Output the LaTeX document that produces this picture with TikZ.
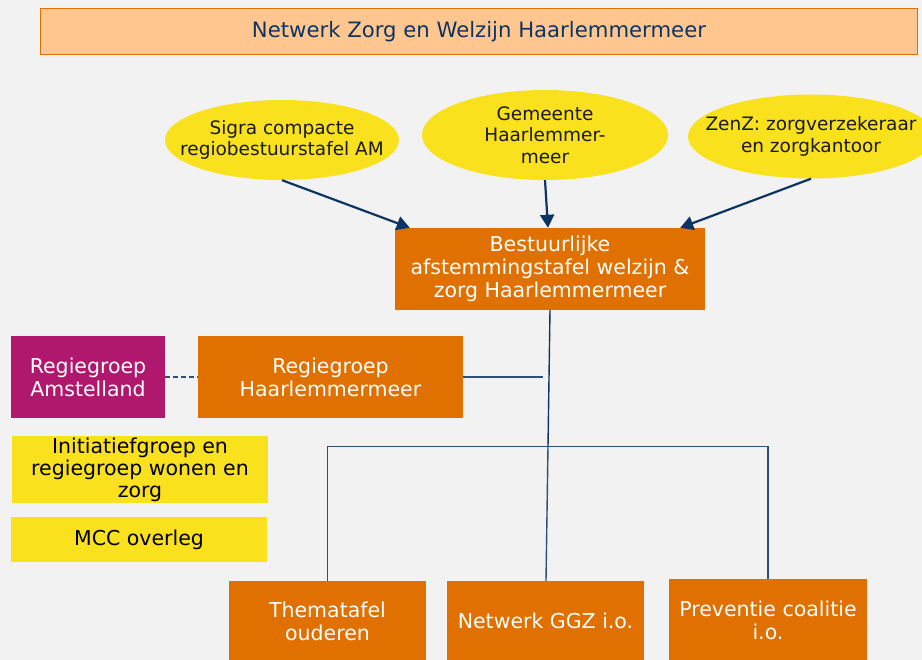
\documentclass[tikz,border=0pt]{standalone}
\usepackage{fontspec}
\setmainfont{DejaVu Sans}
\usetikzlibrary{arrows.meta, positioning, shapes.geometric}
\definecolor{corange}{HTML}{E07000}
\definecolor{cpeach}{HTML}{FFC68F}
\definecolor{cyellow}{HTML}{F9E11E}
\definecolor{cmagenta}{HTML}{B0186E}
\definecolor{cnavy}{HTML}{0E3561}
\definecolor{cline}{HTML}{2F4F78}
\definecolor{cbg}{HTML}{F2F2F2}

\begin{document}
\begin{tikzpicture}[x=1pt, y=-1pt,
  txt/.style={align=center, inner sep=0pt},
  orangebox/.style={txt, fill=corange, text=white, font=\fontsize{20.5}{23}\selectfont},
  yellowbox/.style={txt, fill=cyellow, text=black, font=\fontsize{20.5}{22}\selectfont},
  bubble/.style={ellipse, txt, inner xsep=-50pt, inner ysep=-10pt, fill=cyellow, text=black!90, font=\fontsize{18.5}{21.5}\selectfont},
  feed/.style={cnavy, line width=2.2pt, -{Triangle[length=13pt, width=14pt]}},
  tree/.style={cline, line width=1.4pt}]
  \useasboundingbox (0,0) rectangle (922,660);
  \fill[cbg] (0,0) rectangle (922,660);
  \clip (0,0) rectangle (922,660);

  % title
  \node[txt, fill=cpeach, draw=corange, line width=1.4pt, minimum width=877pt, minimum height=46pt,
    text=cnavy, font=\fontsize{21.2}{24}\selectfont] (title) at (479,31.5) {Netwerk Zorg en Welzijn Haarlemmermeer};

  % partners
  \node[bubble, minimum width=234pt, minimum height=80pt] (sigra) at (282,140) {Sigra compacte\\regiobestuurstafel AM};
  \node[bubble, minimum width=246pt, minimum height=90pt] (gem) at (545,135) {Gemeente\\Haarlemmer-\\meer};
  \node[bubble, minimum width=246pt, minimum height=84pt] (zenz) at (811,136.5) {ZenZ: zorgverzekeraar\\en zorgkantoor};

  % bestuurlijke tafel
  \node[orangebox, minimum width=310pt, minimum height=82pt] (best) at (550,269) {Bestuurlijke\\afstemmingstafel welzijn \&\\zorg Haarlemmermeer};

  \draw[feed] (sigra.south) -- ([xshift=15pt]best.north west);
  \draw[feed] (gem.south) -- ([xshift=-2pt]best.north);
  \draw[feed] (zenz.south) -- ([xshift=-25pt]best.north east);

  % regiegroepen
  \node[orangebox, fill=cmagenta, minimum width=154pt, minimum height=82pt] (ramst) at (88,377) {Regiegroep\\Amstelland};
  \node[orangebox, minimum width=265pt, minimum height=82pt] (rhaar) at (330.5,377) {Regiegroep\\Haarlemmermeer};
  \coordinate (rend) at (543,377);
  \draw[tree, dashed, dash pattern=on 5pt off 3pt] (ramst.east) -- (rhaar.west);
  \draw[tree] (rhaar.east) -- (rend);

  % overleggen links
  \node[yellowbox, minimum width=256pt, minimum height=67pt] (init) at (140,469.5) {Initiatiefgroep en\\regiegroep wonen en\\zorg};
  \node[yellowbox, minimum width=256pt, minimum height=45pt] (mcc) at (139,539.5) {MCC overleg};

  % werktafels
  \node[orangebox, minimum width=197pt, minimum height=98pt] (thema) at (327.5,630) {};
  \node[orangebox, minimum width=197pt, minimum height=98pt] (ggz) at (545.5,630) {};
  \node[orangebox, minimum width=198pt, minimum height=100pt] (prev) at (768,629) {};
  \node[txt, text=white, font=\fontsize{20.5}{23}\selectfont] (themaT) at (327.5,621) {Thematafel\\ouderen};
  \node[txt, text=white, font=\fontsize{20.5}{23}\selectfont] (ggzT) at (545.5,621) {Netwerk GGZ i.o.};
  \node[txt, text=white, font=\fontsize{20.5}{23}\selectfont] (prevT) at (768,620) {Preventie coalitie\\i.o.};

  \coordinate (hub) at (548,446.5);
  \draw[tree, cnavy] (best.south) -- (hub);
  \draw[tree] (thema.north) |- (hub) -| (prev.north);
  \draw[tree] (hub) -- ([xshift=0.5pt]ggz.north);
\end{tikzpicture}
\end{document}
